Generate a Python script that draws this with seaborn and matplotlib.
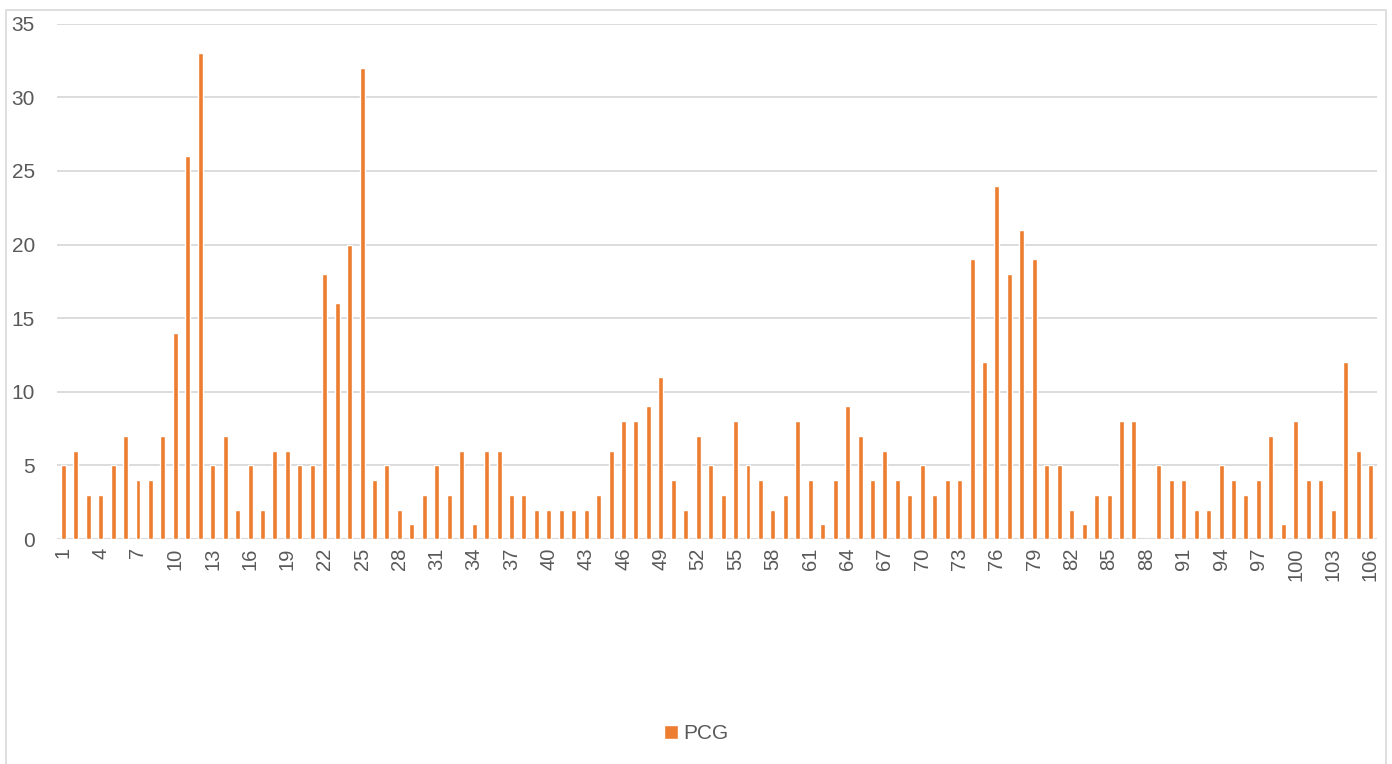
#!/usr/bin/env python3
# PCG counts per sample, bar chart

import pandas as pd
import matplotlib
matplotlib.use('Agg')
import matplotlib.pyplot as plt
import seaborn as sns
from matplotlib.patches import Rectangle

# Data
samples = [str(i) for i in range(1, 107)]
pcg = [5, 6, 3, 3, 5, 7, 4, 4, 7, 14,
       26, 33, 5, 7, 2, 5, 2, 6, 6, 5,
       5, 18, 16, 20, 32, 4, 5, 2, 1, 3,
       5, 3, 6, 1, 6, 6, 3, 3, 2, 2,
       2, 2, 2, 3, 6, 8, 8, 9, 11, 4,
       2, 7, 5, 3, 8, 5, 4, 2, 3, 8,
       4, 1, 4, 9, 7, 4, 6, 4, 3, 5,
       3, 4, 4, 19, 12, 24, 18, 21, 19, 5,
       5, 2, 1, 3, 3, 8, 8, 0, 5, 4,
       4, 2, 2, 5, 4, 3, 4, 7, 1, 8,
       4, 4, 2, 12, 6, 5]
y_ticks = [0, 5, 10, 15, 20, 25, 30, 35]

df = pd.DataFrame({'sample': samples, 'PCG': pcg})

sns.set_theme(style='white')
plt.rcParams['font.family'] = ['Liberation Sans', 'DejaVu Sans']

bar_color = '#ED7D31'
text_color = '#595959'
grid_color = '#D9D9D9'

fig = plt.figure(figsize=(13.92, 7.64), dpi=100)
ax = fig.add_axes([0.041, 0.2945, 0.948, 0.6745])

sns.barplot(data=df, x='sample', y='PCG', order=samples, color=bar_color,
            width=0.4, saturation=1, ax=ax, label='PCG')

ax.set_ylim(0, 35)
ax.set_yticks(y_ticks)
ax.set_xlim(-0.5, len(samples) - 0.5)
ax.yaxis.grid(True, color=grid_color, linewidth=1.3)
ax.set_axisbelow(True)
for s in ax.spines.values():
    s.set_visible(False)
ax.axhline(0, color=grid_color, linewidth=1.5, zorder=0)

ax.set_xticks(range(0, len(samples), 3))
ax.set_xticklabels(samples[::3], rotation=90, fontsize=14.5, color=text_color)
ax.tick_params(axis='y', labelsize=15, labelcolor=text_color, length=0, pad=16)
ax.tick_params(axis='x', length=0, pad=6)
ax.set_xlabel('')
ax.set_ylabel('')

leg = ax.legend(loc='center', bbox_to_anchor=(0.5, 0.04), bbox_transform=fig.transFigure,
                frameon=False, fontsize=15, handlelength=0.65, handleheight=0.65,
                handletextpad=0.25)
for t in leg.get_texts():
    t.set_color(text_color)

# chart area border
fig.patches.append(Rectangle((0.004, -0.01), 0.992, 0.997, transform=fig.transFigure,
                             fill=False, edgecolor='#D9D9D9', linewidth=1.2))

fig.savefig('out.png', dpi=100)
